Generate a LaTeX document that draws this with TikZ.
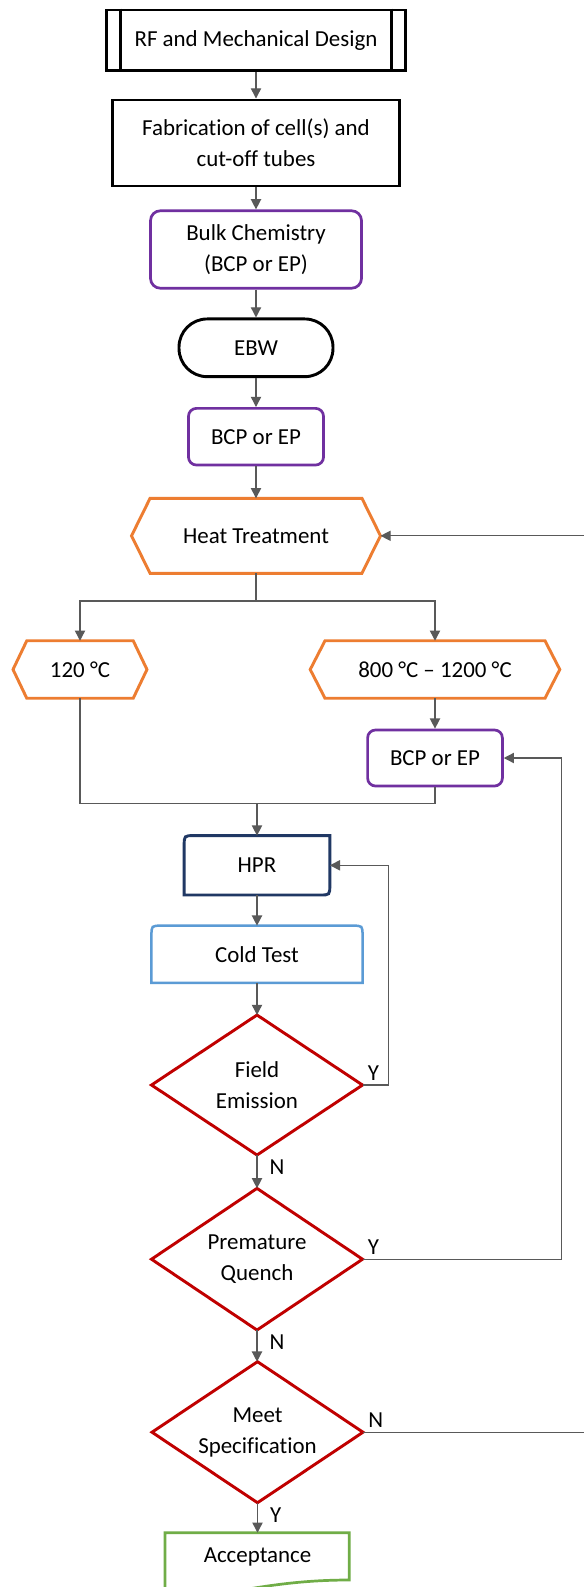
\documentclass[tikz,border=0pt]{standalone}
\usepackage{fontspec}
\setmainfont{Carlito}[Ligatures={NoCommon}]
\usetikzlibrary{arrows.meta}
\definecolor{cpurple}{HTML}{7030A0}
\definecolor{corange}{HTML}{ED7D31}
\definecolor{cred}{HTML}{C00000}
\definecolor{cnavy}{HTML}{203864}
\definecolor{cblue}{HTML}{5B9BD5}
\definecolor{cgreen}{HTML}{70AD47}
\definecolor{cline}{HTML}{595959}
\newcommand\hexoutline[2]{\draw[corange, line width=1.4pt] (#1.west) -- ([xshift=#2]#1.north west) -- ([xshift=-#2]#1.north east) -- (#1.east) -- ([xshift=-#2]#1.south east) -- ([xshift=#2]#1.south west) -- cycle;}
\newcommand\diaoutline[1]{\draw[cred, line width=1.4pt] (#1.north) -- (#1.east) -- (#1.south) -- (#1.west) -- cycle;}
\tikzset{
  conn/.style={draw=cline, line width=0.65pt, -{Triangle[length=4.9pt,width=4.9pt]}},
  plain/.style={draw=cline, line width=0.65pt},
  blk/.style={draw=black, line width=1.4pt},
  pur/.style={draw=cpurple, line width=1.3pt, rounded corners=4.8pt},
  bare/.style={outer sep=0pt},
  rlab/.style={anchor=south west, xshift=2.4pt, yshift=2.2pt},
  blab/.style={anchor=north west, xshift=5.8pt, yshift=-2.2pt}
}
\begin{document}
\begin{tikzpicture}[x=0.48pt,y=-0.48pt,
  every node/.style={font=\fontsize{11}{14.8}\selectfont, align=center, inner sep=0pt, text=black}]
\useasboundingbox (0,0) rectangle (584,1587);
\clip (0,0) rectangle (584,1587);
\fill[white] (0,0) rectangle (584,1587);

% nodes
\node[blk, minimum width=143.5pt, minimum height=29.1pt] (rf) at (256,40.3) {RF and Mechanical Design};
\draw[black, line width=1.4pt] ([xshift=7.6pt]rf.north west) -- ([xshift=7.6pt]rf.south west);
\draw[black, line width=1.4pt] ([xshift=-7.6pt]rf.north east) -- ([xshift=-7.6pt]rf.south east);

\node[blk, minimum width=137.8pt, minimum height=41.3pt] (fab) at (256,143) {Fabrication of cell(s) and\\cut-off tubes};
\node[pur, minimum width=101.3pt, minimum height=37.2pt] (bulk) at (256,249.5) {Bulk Chemistry\\(BCP or EP)};
\node[blk, rounded corners=13.5pt, minimum width=73.9pt, minimum height=27.7pt] (ebw) at (256,347.8) {EBW};
\node[pur, rounded corners=3.8pt, minimum width=64.8pt, minimum height=27.2pt] (bcpa) at (256,436.7) {BCP or EP};

\node[bare, minimum width=119.5pt, minimum height=36pt] (heat) at (256,535.8) {Heat Treatment};
\hexoutline{heat}{8.9pt}
\node[bare, minimum width=64.3pt, minimum height=27.6pt] (t120) at (80,669.5) {120 °C};
\hexoutline{t120}{6.6pt}
\node[bare, minimum width=119.8pt, minimum height=27.6pt] (t800) at (435,669.5) {800 °C – 1200 °C};
\hexoutline{t800}{7.1pt}

\node[pur, rounded corners=3.8pt, minimum width=64.7pt, minimum height=26.9pt] (bcpb) at (435,758) {BCP or EP};

\node[bare, minimum width=69.9pt, minimum height=28.5pt] (hpr) at (257,865.3) {HPR};
\draw[cnavy, line width=1.4pt] (hpr.north east) -- ([yshift=4.8pt]hpr.south east) .. controls (hpr.south east) .. ([xshift=-4.8pt]hpr.south east) -- (hpr.south west) -- ([yshift=-4.8pt]hpr.north west) .. controls (hpr.north west) .. ([xshift=4.8pt]hpr.north west) -- cycle;

\node[bare, minimum width=101.3pt, minimum height=27.4pt] (cold) at (257,954.2) {Cold Test};
\draw[cblue, line width=1.2pt] (cold.south west) -- ([yshift=-4.8pt]cold.north west) .. controls (cold.north west) .. ([xshift=4.8pt]cold.north west) -- ([xshift=-4.8pt]cold.north east) .. controls (cold.north east) .. ([yshift=-4.8pt]cold.north east) -- (cold.south east) -- cycle;

\node[bare, minimum width=101.3pt, minimum height=67.2pt] (fe) at (257,1085) {Field\\Emission};
\diaoutline{fe}
\node[bare, minimum width=101.3pt, minimum height=68pt] (pq) at (257,1259.2) {Premature\\Quench};
\diaoutline{pq}
\node[bare, minimum width=101.3pt, minimum height=67.7pt] (ms) at (257.5,1432.2) {Meet\\Specification};
\diaoutline{ms}

\node[bare, minimum width=88.5pt, minimum height=23pt] (acc) at (257.5,1556.7) {Acceptance};
\draw[cgreen, line width=1.3pt] (165,1600) -- (165,1532.7) -- (349.3,1532.7) -- (349.3,1580) .. controls (300,1580) and (260,1586) .. (200,1598);

% connectors
\draw[conn] (rf.south) -- (fab.north);
\draw[conn] (fab.south) -- (bulk.north);
\draw[conn] (bulk.south) -- (ebw.north);
\draw[conn] (ebw.south) -- (bcpa.north);
\draw[conn] (bcpa.south) -- (heat.north);

\coordinate (split) at (256,601);
\draw[plain] (heat.south) -- (split);
\draw[conn] (split) -| (t120.north);
\draw[conn] (split) -| (t800.north);
\draw[conn] (t800.south) -- (bcpb.north);

\coordinate (merge) at (257,803.3);
\draw[plain] (t120.south) |- (merge);
\draw[plain] (bcpb.south) |- (merge);
\draw[conn] (merge) -- (hpr.north);
\draw[conn] (hpr.south) -- (cold.north);
\draw[conn] (cold.south) -- (fe.north);
\draw[conn] (fe.south) -- (pq.north);
\draw[conn] (pq.south) -- (pq.south |- ms.north);
\draw[conn] (ms.south) -- (acc.north);

\coordinate (feloop) at (388.3,0);
\coordinate (pqloop) at (561.7,0);
\coordinate (msloop) at (600,0);
\draw[conn] (fe.east) -- (fe.east -| feloop) |- (hpr.east);
\draw[conn] (pq.east) -- (pq.east -| pqloop) |- (bcpb.east);
\draw[conn] (ms.east) -- (ms.east -| msloop) |- (heat.east);

% labels
\node[rlab] (yfe) at (fe.east) {Y};
\node[rlab] (ypq) at (pq.east) {Y};
\node[rlab] (nms) at (ms.east) {N};
\node[blab] (nfe) at (fe.south) {N};
\node[blab] (npq) at (pq.south) {N};
\node[blab] (yms) at (ms.south) {Y};
\end{tikzpicture}
\end{document}
